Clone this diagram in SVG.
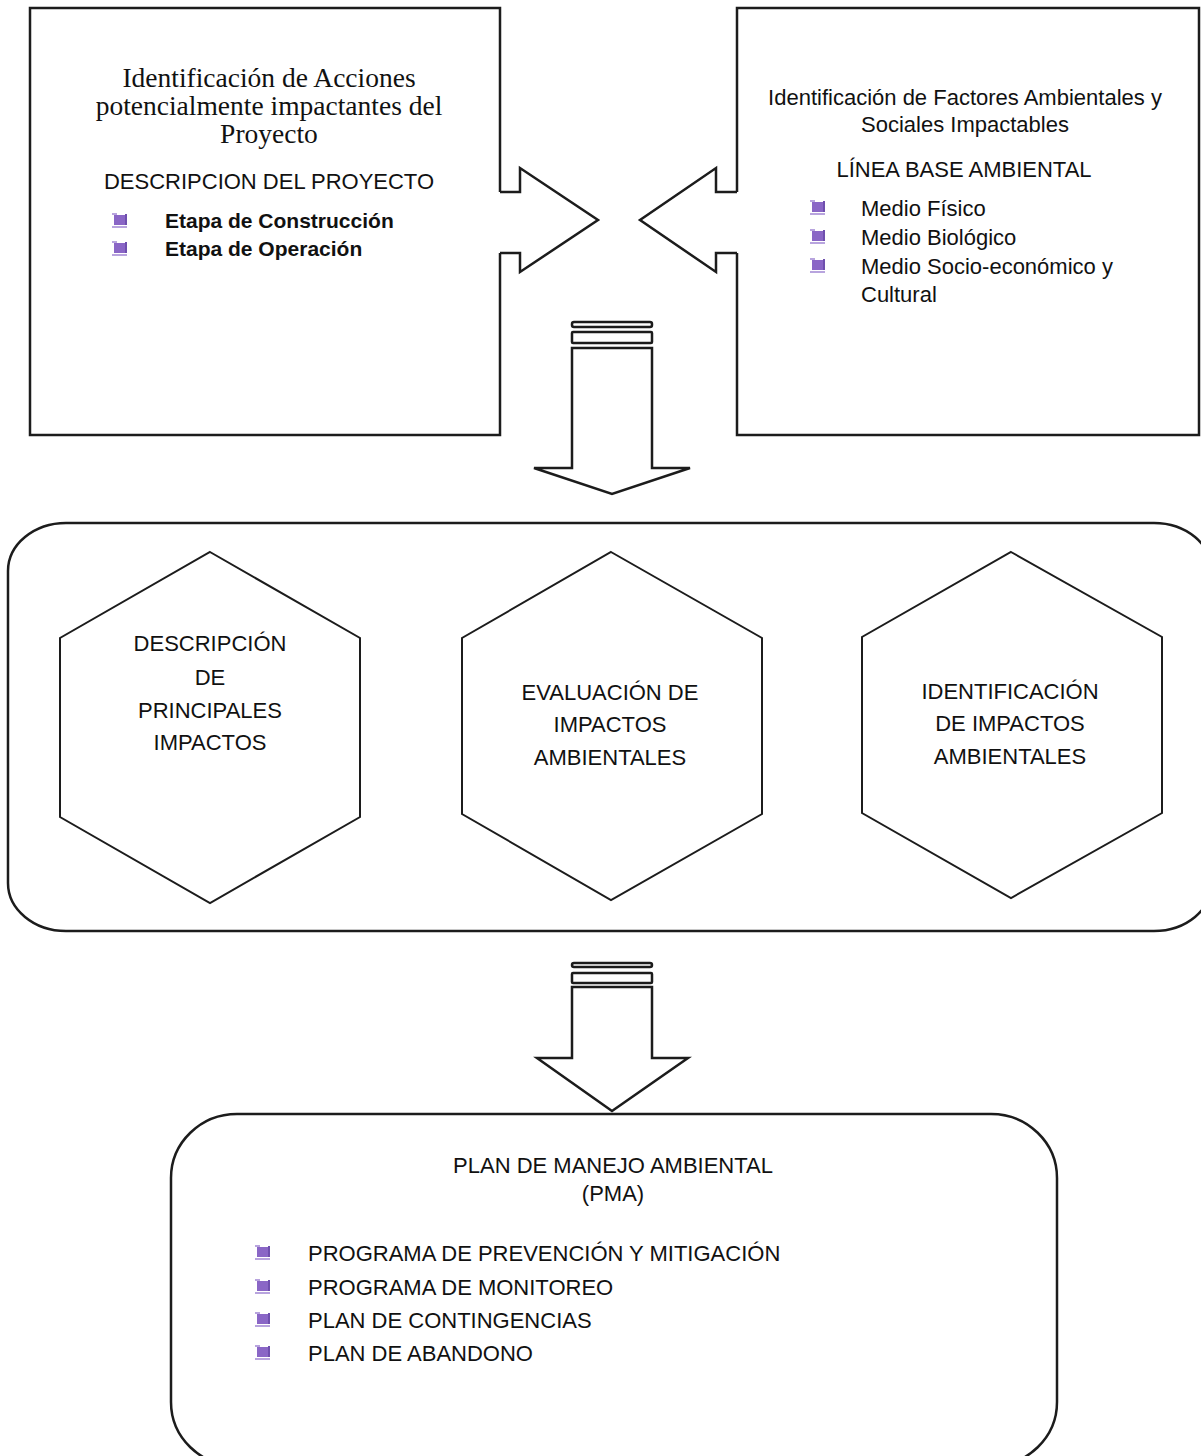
<svg xmlns="http://www.w3.org/2000/svg" xmlns:xlink="http://www.w3.org/1999/xlink" width="1201" height="1456" viewBox="0 0 1201 1456">
<style>
.ln{fill:none;stroke:#1c1c1c;stroke-width:2.5;stroke-linejoin:miter}
.sh{fill:#fff;stroke:#1c1c1c;stroke-width:2.5;stroke-linejoin:miter}
.hx{fill:#fff;stroke:#1c1c1c;stroke-width:2}
.t{font-family:"Liberation Sans",Arial,sans-serif;font-size:22px;fill:#111}
.tc{text-anchor:middle}
.b{font-weight:bold;font-size:21px}
.s{font-family:"Liberation Serif","Times New Roman",serif;font-size:27.5px;fill:#111;text-anchor:middle}
</style>
<defs>
<g id="bullet">
<rect x="2" y="2" width="11" height="10" fill="#8a66c6"/>
<rect x="0" y="0" width="5" height="2" fill="#b8a4de"/>
<rect x="13" y="1" width="2" height="11" fill="#6f4fae"/>
<rect x="0" y="13" width="15" height="2" fill="#b8a4de"/>
</g>
</defs>
<rect width="1201" height="1456" fill="#fff"/>

<g id="box-acciones">
<path class="ln" d="M500,192 V8 H30 V435 H500 V253"/>
<text class="s" x="269" y="87">Identificación de Acciones</text>
<text class="s" x="269" y="115">potencialmente impactantes del</text>
<text class="s" x="269" y="143">Proyecto</text>
<text class="t tc" x="269" y="189">DESCRIPCION DEL PROYECTO</text>
<use href="#bullet" x="112" y="213"/>
<use href="#bullet" x="112" y="241"/>
<text class="t b" x="165" y="228">Etapa de Construcción</text>
<text class="t b" x="165" y="256">Etapa de Operación</text>
</g>

<g id="box-factores">
<path class="ln" d="M737,192 V8 H1199 V435 H737 V253"/>
<text class="t tc" x="965" y="105">Identificación de Factores Ambientales y</text>
<text class="t tc" x="965" y="132">Sociales Impactables</text>
<text class="t tc" x="964" y="177">LÍNEA BASE AMBIENTAL</text>
<use href="#bullet" x="810" y="200"/>
<use href="#bullet" x="810" y="229"/>
<use href="#bullet" x="810" y="258"/>
<text class="t" x="861" y="216">Medio Físico</text>
<text class="t" x="861" y="245">Medio Biológico</text>
<text class="t" x="861" y="274">Medio Socio-económico y</text>
<text class="t" x="861" y="302">Cultural</text>
</g>

<g id="container-impactos">
<rect class="ln" x="8" y="523" width="1204" height="408" rx="58" ry="48"/>
</g>

<g id="hex-descripcion">
<polygon class="hx" points="210,552 360,638 360,817 210,903 60,817 60,638"/>
<text class="t tc" x="210" y="651">DESCRIPCIÓN</text>
<text class="t tc" x="210" y="685">DE</text>
<text class="t tc" x="210" y="718">PRINCIPALES</text>
<text class="t tc" x="210" y="750">IMPACTOS</text>
</g>

<g id="hex-evaluacion">
<polygon class="hx" points="611,552 762,638 762,814 611,900 462,814 462,638"/>
<text class="t tc" x="610" y="700">EVALUACIÓN DE</text>
<text class="t tc" x="610" y="732">IMPACTOS</text>
<text class="t tc" x="610" y="765">AMBIENTALES</text>
</g>

<g id="hex-identificacion">
<polygon class="hx" points="1011,552 1162,637 1162,813 1011,898 862,813 862,637"/>
<text class="t tc" x="1010" y="699">IDENTIFICACIÓN</text>
<text class="t tc" x="1010" y="731">DE IMPACTOS</text>
<text class="t tc" x="1010" y="764">AMBIENTALES</text>
</g>

<g id="box-pma">
<rect class="ln" x="171" y="1114" width="886" height="352" rx="66" ry="64"/>
<text class="t tc" x="613" y="1173">PLAN DE MANEJO AMBIENTAL</text>
<text class="t tc" x="613" y="1201">(PMA)</text>
<use href="#bullet" x="255" y="1245"/>
<use href="#bullet" x="255" y="1279"/>
<use href="#bullet" x="255" y="1312"/>
<use href="#bullet" x="255" y="1345"/>
<text class="t" x="308" y="1261">PROGRAMA DE PREVENCIÓN Y MITIGACIÓN</text>
<text class="t" x="308" y="1295">PROGRAMA DE MONITOREO</text>
<text class="t" x="308" y="1328">PLAN DE CONTINGENCIAS</text>
<text class="t" x="308" y="1361">PLAN DE ABANDONO</text>
</g>

<g id="connectors">
<path class="sh" d="M500,192 H520 V168 L598,220 L520,272 V253 H500"/>
<path class="sh" d="M737,192 H716 V168 L640,220 L716,272 V253 H737"/>
<rect class="sh" x="572" y="322" width="80" height="5" rx="2"/>
<rect class="sh" x="572" y="332" width="80" height="11" rx="1"/>
<path class="sh" d="M572,348 V468 H534 L612,494 L690,468 H652 V348 Z"/>
<rect class="sh" x="572" y="963" width="80" height="4" rx="2"/>
<rect class="sh" x="572" y="973" width="80" height="10" rx="1"/>
<path class="sh" d="M572,987 V1058 H537 L612,1111 L688,1058 H652 V987 Z"/>
</g>
</svg>
